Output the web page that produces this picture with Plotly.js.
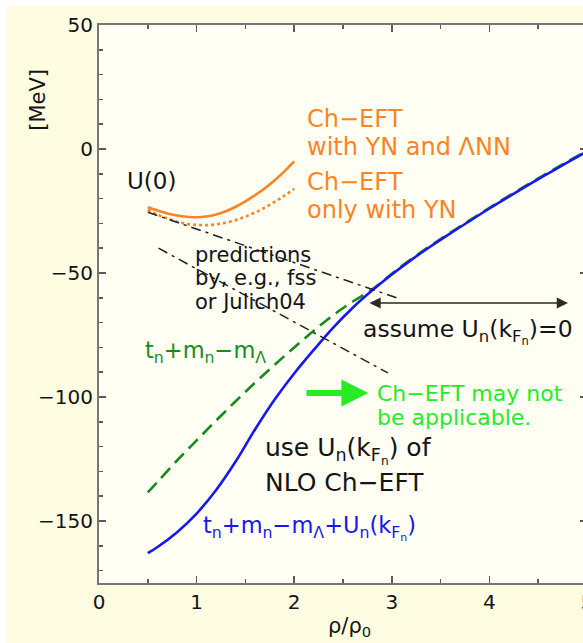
<!DOCTYPE html>
<html>
<head>
<meta charset="utf-8">
<script src="https://cdn.plot.ly/plotly-3.0.1.min.js"></script>
<style>
  html, body { margin: 0; padding: 0; background: #ffffff; overflow: hidden; width: 583px; height: 643px; }
  #chart { position: absolute; left: 6px; top: 6px; }
</style>
</head>
<body>
<div id="chart"></div>
<script>
// density ρ/ρ0 grid shared by the full-range curves
const rho = [0.5, 0.6, 0.8, 1.0, 1.2, 1.4, 1.6, 1.8, 2.0, 2.2, 2.4, 2.6, 2.8, 3.0, 3.2, 3.4, 3.6, 3.8, 4.0, 4.2, 4.4, 4.6, 4.8, 5.0];

// t_n + m_n - m_Λ + U_n(k_Fn)  [MeV]
const blueTotal = [-163, -160.5, -154.5, -147, -137.5, -126, -113, -101, -90.5, -81, -72, -64, -57, -50.6, -44.7, -39.2, -34, -29, -24, -19.2, -14.5, -9.9, -5.4, -1];

// t_n + m_n - m_Λ  [MeV]
const greenKinetic = [-138.5, -134.2, -125.6, -117.5, -109.5, -101.7, -94.2, -87, -80, -73.3, -67, -61.5, -56.6, -50.3, -44.4, -38.9, -33.7, -28.7, -23.7, -18.9, -14.2, -9.6, -5.1, -0.7];

// Λ single-particle potential U(0) from chiral EFT, low density region
const rhoLow = [0.5, 0.6, 0.7, 0.8, 0.9, 1.0, 1.1, 1.2, 1.3, 1.4, 1.5, 1.6, 1.7, 1.8, 1.9, 2.0];
const uWithLNN = [-23.5, -24.8, -26, -26.8, -27.3, -27.5, -27.2, -26.4, -25.1, -23.3, -21.1, -18.6, -15.8, -12.6, -9, -5];
const uOnlyYN = [-24.5, -26.5, -28, -29.3, -30.2, -30.6, -30.7, -30.4, -29.7, -28.7, -27.3, -25.6, -23.6, -21.3, -18.8, -16];

// U(0) predictions by other YN interactions
const rhoFss = [0.5, 3.05];
const uFss = [-25.5, -60];
const rhoJulich = [0.61, 2.96];
const uJulich = [-40, -90.3];

const FONT = 'DejaVu Sans';
const ORANGE = '#fb8426';
const BLUE = '#1717ee';
const DGREEN = '#178c1c';
const LGREEN = '#25ec25';
const INK = '#141414';

const traces = [
  { x: rho, y: greenKinetic, mode: 'lines', line: { color: DGREEN, width: 2.6, dash: '13px,7px', shape: 'spline', smoothing: 1 } },
  { x: rho, y: blueTotal, mode: 'lines', line: { color: BLUE, width: 2.6, shape: 'spline', smoothing: 1 } },
  { x: rhoLow, y: uOnlyYN, mode: 'lines', line: { color: ORANGE, width: 2.6, dash: '3px,3px', shape: 'spline', smoothing: 1 } },
  { x: rhoLow, y: uWithLNN, mode: 'lines', line: { color: ORANGE, width: 2.6, shape: 'spline', smoothing: 1 } },
  { x: rhoFss, y: uFss, mode: 'lines', line: { color: '#222222', width: 1.5, dash: '10px,5px,3px,5px' } },
  { x: rhoJulich, y: uJulich, mode: 'lines', line: { color: '#222222', width: 1.5, dash: '10px,5px,3px,5px' } }
];

function label(text, x, y, size, color) {
  return {
    text: text, x: x, y: y, xref: 'x', yref: 'y',
    xanchor: 'left', yanchor: 'middle', showarrow: false,
    font: { family: FONT, size: size, color: color }
  };
}

const kF = 'k<sub>F<sub>n</sub></sub>';

const annotations = [
  label('U(0)', 0.27, -12.9, 23, INK),
  label('Ch\u2212EFT', 2.11, 12.0, 24, ORANGE),
  label('with YN and \u039BNN', 2.11, 0.7, 24, ORANGE),
  label('Ch\u2212EFT', 2.11, -13.2, 24, ORANGE),
  label('only with YN', 2.11, -24.5, 24, ORANGE),
  label('predictions', 0.96, -42.7, 21, INK),
  label('by, e.g., fss', 0.96, -52.0, 21, INK),
  label('or Julich04', 0.96, -61.5, 21, INK),
  label('t<sub>n</sub>+m<sub>n</sub>\u2212m<sub>\u039B</sub>', 0.45, -82, 22.5, DGREEN),
  label('assume U<sub>n</sub>(' + kF + ')=0', 2.68, -73.5, 23.5, INK),
  label('Ch\u2212EFT may not', 2.83, -98.4, 22, LGREEN),
  label('be applicable.', 2.83, -108.4, 22, LGREEN),
  label('use U<sub>n</sub>(' + kF + ') of', 1.68, -121.5, 25, INK),
  label('NLO Ch\u2212EFT', 1.68, -134.3, 25, INK),
  label('t<sub>n</sub>+m<sub>n</sub>\u2212m<sub>\u039B</sub>+U<sub>n</sub>(' + kF + ')', 1.04, -153, 22.5, BLUE),
  // double arrow over the density range where U_n(k_Fn)=0 is assumed
  { x: 4.805, y: -62.1, ax: 2.756, ay: -62.1, xref: 'x', yref: 'y', axref: 'x', ayref: 'y', text: '',
    showarrow: true, arrowside: 'end+start', arrowhead: 2, startarrowhead: 2, arrowsize: 1.4, startarrowsize: 1.4,
    arrowwidth: 1.6, arrowcolor: '#2a2a2a', standoff: 0, startstandoff: 0 },
  // green pointer to the applicability note
  { x: 2.76, y: -98.4, ax: 2.11, ay: -98.4, xref: 'x', yref: 'y', axref: 'x', ayref: 'y', text: '',
    showarrow: true, arrowhead: 2, arrowsize: 0.9, arrowwidth: 6, arrowcolor: LGREEN, standoff: 0, startstandoff: 0 },
  // axis titles
  { text: '[MeV]', xref: 'paper', yref: 'paper', x: -0.125, y: 0.866, textangle: -90,
    xanchor: 'center', yanchor: 'middle', showarrow: false, font: { family: FONT, size: 21, color: INK } },
  { text: '\u03C1/\u03C1<sub>0</sub>', xref: 'paper', yref: 'paper', x: 0.514, y: -0.079,
    xanchor: 'center', yanchor: 'middle', showarrow: false, font: { family: FONT, size: 21, color: INK } }
];

const axisCommon = {
  ticks: 'inside', ticklen: 7, tickwidth: 1.5, tickcolor: '#5a5a5a',
  showline: true, linecolor: '#777777', linewidth: 2, mirror: 'allticks',
  showgrid: false, zeroline: false,
  tickfont: { family: FONT, size: 20, color: INK }
};

const layout = {
  width: 589, height: 637,
  margin: { l: 93, r: 8, t: 19, b: 60 },
  paper_bgcolor: '#fefde1',
  plot_bgcolor: '#fffff4',
  showlegend: false,
  font: { family: FONT, size: 20, color: INK },
  xaxis: Object.assign({}, axisCommon, {
    range: [0, 5], tick0: 0, dtick: 1,
    minor: { ticks: 'inside', ticklen: 4, dtick: 0.5, tickcolor: '#5a5a5a', tickwidth: 1.5 }
  }),
  yaxis: Object.assign({}, axisCommon, {
    range: [-175, 50], tick0: 0, dtick: 50,
    minor: { ticks: 'inside', ticklen: 4, dtick: 10, tickcolor: '#5a5a5a', tickwidth: 1.5 }
  }),
  annotations: annotations
};

Plotly.newPlot('chart', traces, layout, { staticPlot: true, displayModeBar: false });
</script>
</body>
</html>
